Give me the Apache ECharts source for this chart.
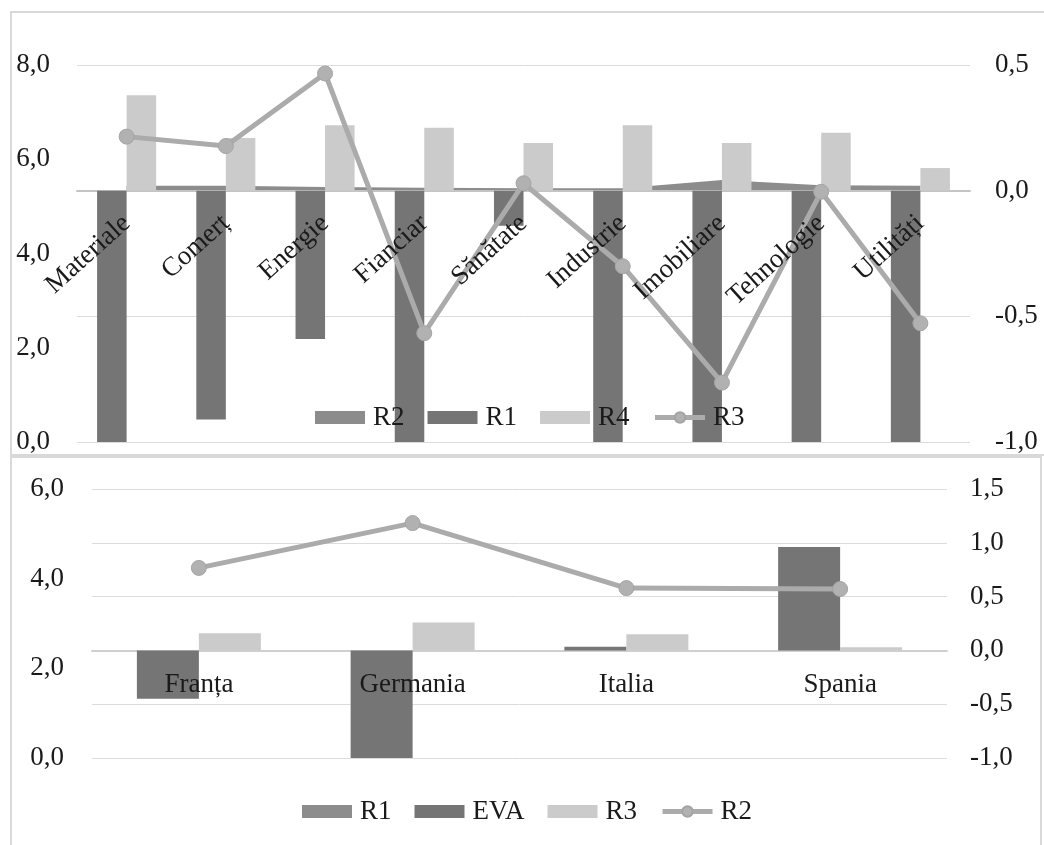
<!DOCTYPE html>
<html>
<head>
<meta charset="utf-8">
<script src="https://cdn.jsdelivr.net/npm/echarts@6/dist/echarts.min.js"></script>
<style>
  html, body { margin: 0; padding: 0; background: #ffffff; }
  #chart { width: 1044px; height: 845px; }
</style>
</head>
<body>
<div id="chart"></div>
<script>
// ---------- Top panel data ----------
const topCategories = ['Materiale', 'Comerț', 'Energie', 'Fianciar', 'Sănătate', 'Industrie', 'Imobiliare', 'Tehnologie', 'Utilități'];
const topR2 = [0.02, 0.02, 0.015, 0.012, 0.01, 0.01, 0.042, 0.022, 0.02];   // area, right axis
const topR1 = [-1.0, -0.91, -0.59, -1.0, -0.14, -1.0, -1.0, -1.0, -1.0];    // bars, right axis
const topR4 = [0.38, 0.21, 0.26, 0.25, 0.19, 0.26, 0.19, 0.23, 0.09];       // bars, right axis
const topR3 = [6.48, 6.28, 7.82, 2.31, 5.49, 3.73, 1.26, 5.31, 2.52];       // line, left axis
const topLeftTicks = [0, 2, 4, 6, 8];
const topRightTicks = [-1.0, -0.5, 0.0, 0.5];

// ---------- Bottom panel data ----------
const bottomCategories = ['Franța', 'Germania', 'Italia', 'Spania'];
const bottomR1 = [0, 0, 0, 0];                  // area, right axis
const bottomEVA = [-0.45, -1.0, 0.035, 0.96];   // bars, right axis
const bottomR3 = [0.16, 0.26, 0.15, 0.03];      // bars, right axis
const bottomR2 = [4.24, 5.24, 3.79, 3.77];      // line, left axis
const bottomLeftTicks = [0, 2, 4, 6];
const bottomRightTicks = [-1.0, -0.5, 0.0, 0.5, 1.0, 1.5];

const FONT = 'Liberation Serif';
const TXT = '#1a1a1a';
const C_MED = '#8c8c8c';
const C_DARK = '#757575';
const C_LIGHT = '#cbcbcb';
const C_LINE = '#ababab';
const C_GRID = '#dcdcdc';

const fmt = v => Number(v).toFixed(1).replace('.', ',');
const strip = n => n.replace(/^[tb]_/, '');

// grid geometry (pixels)
const TOP_GRID = { left: 77, right: 74, top: 65, bottom: 845 - 442 };
const BOT_GRID = { left: 92, right: 97, top: 489, bottom: 845 - 758 };
const topPlotH = 845 - TOP_GRID.top - TOP_GRID.bottom;
const botPlotH = 845 - BOT_GRID.top - BOT_GRID.bottom;
const rangeOf = t => t[t.length - 1] - t[0];
// place the category axis at value 0 of the right-hand axis
const topAxisOffset = -topPlotH * (0 - topRightTicks[0]) / rangeOf(topRightTicks);
const botAxisOffset = -botPlotH * (0 - bottomRightTicks[0]) / rangeOf(bottomRightTicks);

const chart = echarts.init(document.getElementById('chart'), null, { renderer: 'canvas' });

const labelStyle = { fontFamily: FONT, fontSize: 27, color: TXT };
const legendBase = {
  itemWidth: 50, itemHeight: 13, itemGap: 23, padding: 0, selectedMode: false,
  textStyle: { fontFamily: FONT, fontSize: 27, color: TXT, padding: [0, 0, 0, 3] },
  formatter: strip
};
const lineLegend = { lineStyle: { width: 5, color: C_LINE }, itemStyle: { color: '#b1b1b1' } };

// baseline-only category axis (drawn under the series)
const baseAxis = (gridIndex, data, offset, color) => ({
  type: 'category', gridIndex, data, position: 'bottom', offset, zlevel: 0, z: 1,
  axisTick: { show: false }, axisLabel: { show: false }, splitLine: { show: false },
  axisLine: { show: true, onZero: false, lineStyle: { color, width: 2 } }
});

const option = {
  animation: false,
  backgroundColor: '#ffffff',
  graphic: [
    { type: 'rect', shape: { x: 11, y: 12, width: 1050, height: 443 }, style: { fill: 'none', stroke: '#d9d9d9', lineWidth: 2 }, z: 0, silent: true },
    { type: 'rect', shape: { x: 11, y: 457, width: 1030, height: 450 }, style: { fill: 'none', stroke: '#d9d9d9', lineWidth: 2 }, z: 0, silent: true }
  ],
  grid: [TOP_GRID, BOT_GRID],
  legend: [
    Object.assign({}, legendBase, {
      left: 315, top: 404,
      data: [{ name: 't_R2', icon: 'rect' }, { name: 't_R1', icon: 'rect' }, { name: 't_R4', icon: 'rect' }, Object.assign({ name: 't_R3' }, lineLegend)]
    }),
    Object.assign({}, legendBase, {
      left: 302, top: 798,
      data: [{ name: 'b_R1', icon: 'rect' }, { name: 'b_EVA', icon: 'rect' }, { name: 'b_R3', icon: 'rect' }, Object.assign({ name: 'b_R2' }, lineLegend)]
    })
  ],
  xAxis: [
    {
      type: 'category', gridIndex: 0, data: topCategories, zlevel: 2, z: 3, position: 'bottom', offset: topAxisOffset,
      axisTick: { show: false },
      axisLine: { show: false, onZero: false },
      axisLabel: Object.assign({ rotate: 42, interval: 0, margin: 29 }, labelStyle)
    },
    {
      type: 'category', gridIndex: 1, data: bottomCategories, zlevel: 2, z: 3, position: 'bottom', offset: botAxisOffset,
      axisTick: { show: false },
      axisLine: { show: false, onZero: false },
      axisLabel: Object.assign({ interval: 0, margin: 21 }, labelStyle)
    },
    baseAxis(0, topCategories, topAxisOffset, '#c4c4c4'),
    baseAxis(1, bottomCategories, botAxisOffset, '#d0d0d0')
  ],
  yAxis: [
    {
      type: 'value', gridIndex: 0, position: 'left',
      min: topLeftTicks[0], max: topLeftTicks[topLeftTicks.length - 1], interval: topLeftTicks[1] - topLeftTicks[0],
      splitLine: { show: false }, axisLine: { show: false }, axisTick: { show: false },
      axisLabel: Object.assign({ margin: 27, formatter: fmt }, labelStyle)
    },
    {
      type: 'value', gridIndex: 0, position: 'right',
      min: topRightTicks[0], max: topRightTicks[topRightTicks.length - 1], interval: topRightTicks[1] - topRightTicks[0],
      splitLine: { show: true, lineStyle: { color: C_GRID, width: 1 } }, axisLine: { show: false }, axisTick: { show: false },
      axisLabel: Object.assign({ margin: 25, formatter: fmt }, labelStyle)
    },
    {
      type: 'value', gridIndex: 1, position: 'left',
      min: bottomLeftTicks[0], max: bottomLeftTicks[bottomLeftTicks.length - 1], interval: bottomLeftTicks[1] - bottomLeftTicks[0],
      splitLine: { show: false }, axisLine: { show: false }, axisTick: { show: false },
      axisLabel: Object.assign({ margin: 28, formatter: fmt }, labelStyle)
    },
    {
      type: 'value', gridIndex: 1, position: 'right',
      min: bottomRightTicks[0], max: bottomRightTicks[bottomRightTicks.length - 1], interval: bottomRightTicks[1] - bottomRightTicks[0],
      splitLine: { show: true, lineStyle: { color: C_GRID, width: 1 } }, axisLine: { show: false }, axisTick: { show: false },
      axisLabel: Object.assign({ margin: 23, formatter: fmt }, labelStyle)
    }
  ],
  series: [
    // ----- top panel -----
    {
      name: 't_R2', type: 'line', xAxisIndex: 0, yAxisIndex: 1, data: topR2,
      symbol: 'none', lineStyle: { width: 0 }, itemStyle: { color: C_MED },
      areaStyle: { color: C_MED, opacity: 1 }, z: 1
    },
    {
      name: 't_R1', type: 'bar', xAxisIndex: 0, yAxisIndex: 1, data: topR1,
      itemStyle: { color: C_DARK }, barGap: '0%', barCategoryGap: '40.5%', z: 2
    },
    {
      name: 't_R4', type: 'bar', xAxisIndex: 0, yAxisIndex: 1, data: topR4,
      itemStyle: { color: C_LIGHT }, barGap: '0%', barCategoryGap: '40.5%', z: 2
    },
    {
      name: 't_R3', type: 'line', xAxisIndex: 0, yAxisIndex: 0, data: topR3,
      symbol: 'circle', symbolSize: 15, zlevel: 1,
      lineStyle: { color: C_LINE, width: 5 }, itemStyle: { color: '#b1b1b1', borderColor: '#a4a4a4', borderWidth: 1 }, z: 4
    },
    // ----- bottom panel -----
    {
      name: 'b_R1', type: 'line', xAxisIndex: 1, yAxisIndex: 3, data: bottomR1,
      symbol: 'none', lineStyle: { width: 0 }, itemStyle: { color: C_MED },
      areaStyle: { color: C_MED, opacity: 1 }, z: 1
    },
    {
      name: 'b_EVA', type: 'bar', xAxisIndex: 1, yAxisIndex: 3, data: bottomEVA,
      itemStyle: { color: C_DARK }, barGap: '0%', barCategoryGap: '42%', z: 2
    },
    {
      name: 'b_R3', type: 'bar', xAxisIndex: 1, yAxisIndex: 3, data: bottomR3,
      itemStyle: { color: C_LIGHT }, barGap: '0%', barCategoryGap: '42%', z: 2
    },
    {
      name: 'b_R2', type: 'line', xAxisIndex: 1, yAxisIndex: 2, data: bottomR2,
      symbol: 'circle', symbolSize: 15, zlevel: 1,
      lineStyle: { color: C_LINE, width: 5 }, itemStyle: { color: '#b1b1b1', borderColor: '#a4a4a4', borderWidth: 1 }, z: 4
    }
  ]
};

chart.setOption(option);
</script>
</body>
</html>
